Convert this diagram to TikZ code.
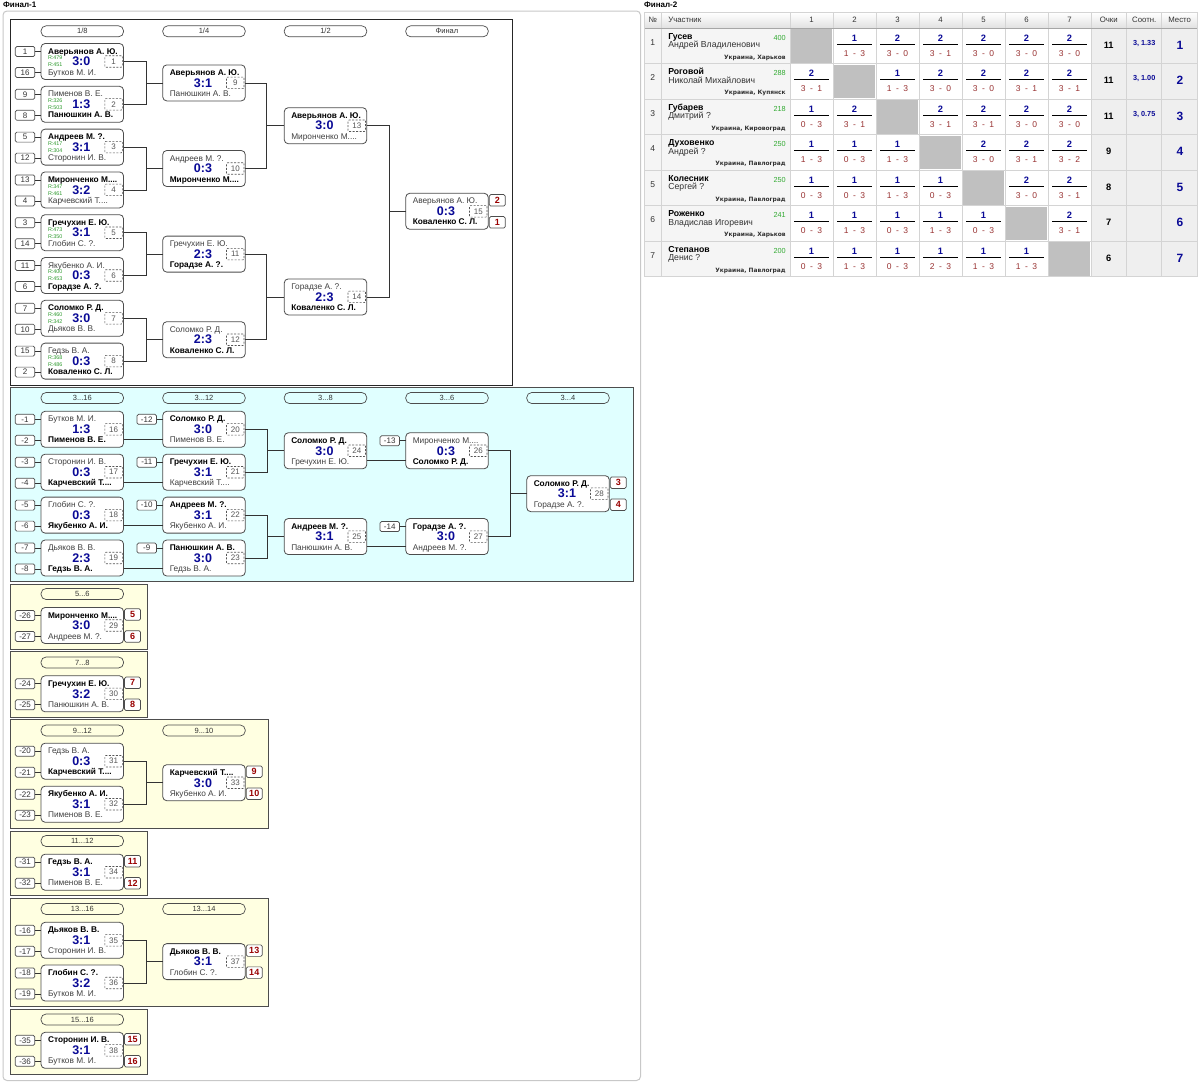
\documentclass[tikz,border=0pt]{standalone}
\usepackage{fontspec}
\setmainfont{Liberation Sans}
\newfontfamily\cityfont{DejaVu Sans}
\usetikzlibrary{calc}
\definecolor{boxline}{HTML}{4D4D4D}
\definecolor{connc}{HTML}{333333}
\definecolor{scoreblue}{HTML}{0A0A96}
\definecolor{numgray}{HTML}{555555}
\definecolor{placered}{HTML}{990000}
\definecolor{rgreen}{HTML}{2E9B2E}
\definecolor{txtgray}{HTML}{404040}
\definecolor{txtdark}{HTML}{333333}
\definecolor{cyanfill}{HTML}{E0FFFF}
\definecolor{yelfill}{HTML}{FFFFE1}
\definecolor{panelgray}{HTML}{C8C8C8}
\definecolor{gridc}{HTML}{D4D4D4}
\definecolor{cellgray}{HTML}{C0C0C0}
\definecolor{partfill}{HTML}{F5F5F5}
\definecolor{sumfill}{HTML}{EFEFEF}
\definecolor{resred}{HTML}{993333}
\definecolor{tgreen}{HTML}{33AA33}
\newcommand\wnr[1]{\textbf{#1}}
\newcommand\lsr[1]{\textcolor{txtgray}{#1}}
\tikzset{
 every node/.style={inner sep=0pt, outer sep=0pt},
 mbox/.style={draw=boxline, fill=white, rounded corners=4pt, minimum width=82.5pt, minimum height=36pt, line width=0.8pt},
 nm/.style={anchor=base west, font=\fontsize{8.3}{9}\selectfont},
 sc/.style={font=\fontsize{12.5}{13}\selectfont\bfseries, text=scoreblue},
 numbox/.style={draw=numgray, dash pattern=on 2pt off 1.5pt, rounded corners=1pt, minimum width=17.5pt, minimum height=11.5pt, font=\fontsize{8}{9}\selectfont, text=numgray, line width=0.6pt},
 seedbox/.style={draw=boxline, fill=white, rounded corners=1.5pt, minimum width=19.5pt, minimum height=10pt, font=\fontsize{8}{9}\selectfont, text=txtdark, line width=0.7pt},
 placebox/.style={draw=boxline, fill=white, rounded corners=1.5pt, minimum width=16pt, minimum height=11.5pt, font=\fontsize{9}{10}\selectfont\bfseries, text=placered, line width=0.7pt},
 hdrbox/.style={draw=boxline, rounded corners=5pt, minimum width=82.5pt, minimum height=11pt, font=\fontsize{7.5}{8}\selectfont, text=txtdark, line width=0.7pt},
 conn/.style={draw=connc, line width=0.8pt},
 rt/.style={anchor=west, font=\fontsize{5.4}{6}\selectfont, text=rgreen},
 thd/.style={anchor=base, font=\fontsize{7.8}{9}\selectfont, text=txtdark},
 resn/.style={anchor=base, font=\fontsize{9.3}{10}\selectfont\bfseries, text=scoreblue},
 ress/.style={anchor=base, font=\fontsize{8.5}{10}\selectfont, text=resred},
}
\newcommand\mtch[6]{%
  \node[mbox] (m#1) at (#2,#3) {};
  \node[nm] (m#1t) at ([xshift=7pt,yshift=7.5pt]m#1.west) {#4};
  \node[nm] (m#1b) at ([xshift=7pt,yshift=-13.5pt]m#1.west) {#5};
  \node[sc] (m#1s) at ([xshift=-1pt]m#1.center) {#6};
  \node[numbox] (m#1n) at ([xshift=-10pt]m#1.east) {#1};
}
\newcommand\rat[3]{%
  \node[rt] (m#1ra) at ([xshift=7pt,yshift=3.5pt]m#1.west) {R:#2};
  \node[rt] (m#1rb) at ([xshift=7pt,yshift=-3.5pt]m#1.west) {R:#3};
}
\newcommand\seeds[3]{%
  \node[seedbox] (m#1sa) at ([xshift=-16pt,yshift=10pt]m#1.west) {#2};
  \node[seedbox] (m#1sb) at ([xshift=-16pt,yshift=-11pt]m#1.west) {#3};
  \draw[conn] (m#1sa.east) -- (m#1sa.east -| m#1.west);
  \draw[conn] (m#1sb.east) -- (m#1sb.east -| m#1.west);
}
\newcommand\seedtop[2]{%
  \node[seedbox] (m#1sa) at ([xshift=-16pt,yshift=10pt]m#1.west) {#2};
  \draw[conn] (m#1sa.east) -- (m#1sa.east -| m#1.west);
}
\newcommand\places[3]{%
  \node[placebox] (m#1pa) at ([xshift=9pt,yshift=11pt]m#1.east) {#2};
  \node[placebox] (m#1pb) at ([xshift=9pt,yshift=-11pt]m#1.east) {#3};
}
\newcommand\joinm[4]{%
  \draw[conn] (m#1.east) -- ++(#4,0) |- (m#3.west);
  \draw[conn] (m#2.east) -- ++(#4,0) |- (m#3.west);
}
\newcommand\strt[2]{%
  \draw[conn] ([yshift=-10pt]m#1.east) -- ([yshift=-10pt]m#2.west);
}
\newcommand\hdr[4]{\node[hdrbox] (#1) at (#2,#3) {#4};}
% table
\newcommand\trow[6]{% row, surname, name, rating, city, points
  \node[anchor=base, font=\fontsize{8.5}{9}\selectfont, text=txtdark] (tn#1) at (652.8,{28.3+35.5*(#1-1)+16.7}) {#1};
  \node[anchor=base west, font=\fontsize{8.7}{9}\selectfont\bfseries] (tsn#1) at (668.3,{28.3+35.5*(#1-1)+10.9}) {#2};
  \node[anchor=base west, font=\fontsize{8.7}{9}\selectfont, text=txtdark] (tfn#1) at (668.3,{28.3+35.5*(#1-1)+19.5}) {#3};
  \node[anchor=base east, font=\fontsize{7.3}{8}\selectfont, text=tgreen] (trt#1) at (785.7,{28.3+35.5*(#1-1)+11.7}) {#4};
  \node[anchor=base east, font=\cityfont\fontsize{5.9}{7}\selectfont\bfseries, text=txtdark] (tct#1) at (785.7,{28.3+35.5*(#1-1)+31}) {#5};
  \node[anchor=base, font=\fontsize{9.3}{10}\selectfont\bfseries] (tpt#1) at (1108.7,{28.3+35.5*(#1-1)+20}) {#6};
  \node[anchor=base, font=\fontsize{12}{13}\selectfont\bfseries, text=scoreblue] (tpl#1) at (1180,{28.3+35.5*(#1-1)+21}) {#1};
}
\newcommand\rc[5]{% row, col, pts, a, b
  \node[resn] (r#1c#2p) at ({790+43*(#2-1)+21.5},{28.3+35.5*(#1-1)+12.7}) {#3};
  \draw[line width=1.1pt, black] ({790+43*(#2-1)+4.3},{28.3+35.5*(#1-1)+16}) -- ({790+43*(#2-1)+38.7},{28.3+35.5*(#1-1)+16});
  \node[ress] (r#1c#2s) at ({790+43*(#2-1)+21.5},{28.3+35.5*(#1-1)+27.7}) {#4\hspace{4.5pt}-\hspace{4.5pt}#5};
}
\newcommand\gc[1]{% diagonal cell
  \fill[cellgray] ({790+43*(#1-1)+1},{28.3+35.5*(#1-1)+1}) rectangle ({790+43*(#1-1)+42},{28.3+35.5*(#1-1)+34.5});
}
\begin{document}
\begin{tikzpicture}[x=1pt,y=-1pt]
\useasboundingbox (0,0) rectangle (1200,1082);
\fill[white] (0,0) rectangle (1200,1082);
% titles
\node[anchor=base west, font=\fontsize{8}{9}\selectfont\bfseries] (title1) at (3,7.5) {Финал-1};
\node[anchor=base west, font=\fontsize{8}{9}\selectfont\bfseries] (title2) at (644,7.5) {Финал-2};
% outer panel
\draw[panelgray, line width=1pt, rounded corners=4pt] (3,11) rectangle (640.5,1080.5);
% sections
\draw[black!85, line width=0.9pt, fill=white] (10,19) rectangle (512,385);
\draw[boxline, line width=0.9pt, fill=cyanfill] (10,387) rectangle (633,581);
\draw[boxline, line width=0.9pt, fill=yelfill] (10,584) rectangle (147,649.3);
\draw[boxline, line width=0.9pt, fill=yelfill] (10,651.7) rectangle (147,717.3);
\draw[boxline, line width=0.9pt, fill=yelfill] (10,719.5) rectangle (268.5,828.5);
\draw[boxline, line width=0.9pt, fill=yelfill] (10,831) rectangle (147,895.8);
\draw[boxline, line width=0.9pt, fill=yelfill] (10,898.5) rectangle (268.5,1006.7);
\draw[boxline, line width=0.9pt, fill=yelfill] (10,1009.3) rectangle (147,1074.3);
% headers
\hdr{h1}{82.3}{31.3}{1/8}
\hdr{h2}{204}{31.3}{1/4}
\hdr{h3}{325.5}{31.3}{1/2}
\hdr{h4}{447}{31.3}{Финал}
\hdr{h5}{82.3}{398}{3...16}
\hdr{h6}{204}{398}{3...12}
\hdr{h7}{325.5}{398}{3...8}
\hdr{h8}{447}{398}{3...6}
\hdr{h9}{568}{398}{3...4}
\hdr{h10}{82.3}{594}{5...6}
\hdr{h11}{82.3}{662.5}{7...8}
\hdr{h12}{82.3}{730.5}{9...12}
\hdr{h13}{204}{730.5}{9...10}
\hdr{h14}{82.3}{841}{11...12}
\hdr{h15}{82.3}{909}{13...16}
\hdr{h16}{204}{909}{13...14}
\hdr{h17}{82.3}{1019.5}{15...16}
% ---- main bracket
\mtch{1}{82.3}{61.5}{\wnr{Аверьянов А. Ю.}}{\lsr{Бутков М. И.}}{3:0}\rat{1}{479}{451}\seeds{1}{1}{16}
\mtch{2}{82.3}{104.3}{\lsr{Пименов В. Е.}}{\wnr{Панюшкин А. В.}}{1:3}\rat{2}{326}{503}\seeds{2}{9}{8}
\mtch{3}{82.3}{147.1}{\wnr{Андреев М. ?.}}{\lsr{Сторонин И. В.}}{3:1}\rat{3}{417}{304}\seeds{3}{5}{12}
\mtch{4}{82.3}{189.9}{\wnr{Миронченко М....}}{\lsr{Карчевский Т....}}{3:2}\rat{4}{347}{461}\seeds{4}{13}{4}
\mtch{5}{82.3}{232.7}{\wnr{Гречухин Е. Ю.}}{\lsr{Глобин С. ?.}}{3:1}\rat{5}{473}{350}\seeds{5}{3}{14}
\mtch{6}{82.3}{275.5}{\lsr{Якубенко А. И.}}{\wnr{Горадзе А. ?.}}{0:3}\rat{6}{400}{453}\seeds{6}{11}{6}
\mtch{7}{82.3}{318.3}{\wnr{Соломко Р. Д.}}{\lsr{Дьяков В. В.}}{3:0}\rat{7}{460}{342}\seeds{7}{7}{10}
\mtch{8}{82.3}{361.1}{\lsr{Гедзь В. А.}}{\wnr{Коваленко С. Л.}}{0:3}\rat{8}{368}{486}\seeds{8}{15}{2}
\mtch{9}{204}{82.9}{\wnr{Аверьянов А. Ю.}}{\lsr{Панюшкин А. В.}}{3:1}
\mtch{10}{204}{168.5}{\lsr{Андреев М. ?.}}{\wnr{Миронченко М....}}{0:3}
\mtch{11}{204}{254.1}{\lsr{Гречухин Е. Ю.}}{\wnr{Горадзе А. ?.}}{2:3}
\mtch{12}{204}{339.7}{\lsr{Соломко Р. Д.}}{\wnr{Коваленко С. Л.}}{2:3}
\mtch{13}{325.5}{125.7}{\wnr{Аверьянов А. Ю.}}{\lsr{Миронченко М....}}{3:0}
\mtch{14}{325.5}{296.9}{\lsr{Горадзе А. ?.}}{\wnr{Коваленко С. Л.}}{2:3}
\mtch{15}{447}{211.3}{\lsr{Аверьянов А. Ю.}}{\wnr{Коваленко С. Л.}}{0:3}\places{15}{2}{1}
\joinm{1}{2}{9}{23}
\joinm{3}{4}{10}{23}
\joinm{5}{6}{11}{23}
\joinm{7}{8}{12}{23}
\joinm{9}{10}{13}{21}
\joinm{11}{12}{14}{21}
\joinm{13}{14}{15}{22.5}
% ---- 3..16
\mtch{16}{82.3}{429.3}{\lsr{Бутков М. И.}}{\wnr{Пименов В. Е.}}{1:3}\seeds{16}{-1}{-2}
\mtch{17}{82.3}{472.2}{\lsr{Сторонин И. В.}}{\wnr{Карчевский Т....}}{0:3}\seeds{17}{-3}{-4}
\mtch{18}{82.3}{515.1}{\lsr{Глобин С. ?.}}{\wnr{Якубенко А. И.}}{0:3}\seeds{18}{-5}{-6}
\mtch{19}{82.3}{558}{\lsr{Дьяков В. В.}}{\wnr{Гедзь В. А.}}{2:3}\seeds{19}{-7}{-8}
\mtch{20}{204}{429.3}{\wnr{Соломко Р. Д.}}{\lsr{Пименов В. Е.}}{3:0}\seedtop{20}{-12}
\mtch{21}{204}{472.2}{\wnr{Гречухин Е. Ю.}}{\lsr{Карчевский Т....}}{3:1}\seedtop{21}{-11}
\mtch{22}{204}{515.1}{\wnr{Андреев М. ?.}}{\lsr{Якубенко А. И.}}{3:1}\seedtop{22}{-10}
\mtch{23}{204}{558}{\wnr{Панюшкин А. В.}}{\lsr{Гедзь В. А.}}{3:0}\seedtop{23}{-9}
\mtch{24}{325.5}{450.75}{\wnr{Соломко Р. Д.}}{\lsr{Гречухин Е. Ю.}}{3:0}
\mtch{25}{325.5}{536.55}{\wnr{Андреев М. ?.}}{\lsr{Панюшкин А. В.}}{3:1}
\mtch{26}{447}{450.75}{\lsr{Миронченко М....}}{\wnr{Соломко Р. Д.}}{0:3}\seedtop{26}{-13}
\mtch{27}{447}{536.55}{\wnr{Горадзе А. ?.}}{\lsr{Андреев М. ?.}}{3:0}\seedtop{27}{-14}
\mtch{28}{568}{493.65}{\wnr{Соломко Р. Д.}}{\lsr{Горадзе А. ?.}}{3:1}\places{28}{3}{4}
\strt{16}{20}\strt{17}{21}\strt{18}{22}\strt{19}{23}
\strt{24}{26}\strt{25}{27}
\joinm{20}{21}{24}{22}
\joinm{22}{23}{25}{22}
\joinm{26}{27}{28}{22.5}
% ---- lower places
\mtch{29}{82.3}{625.5}{\wnr{Миронченко М....}}{\lsr{Андреев М. ?.}}{3:0}\seeds{29}{-26}{-27}\places{29}{5}{6}
\mtch{30}{82.3}{693.8}{\wnr{Гречухин Е. Ю.}}{\lsr{Панюшкин А. В.}}{3:2}\seeds{30}{-24}{-25}\places{30}{7}{8}
\mtch{31}{82.3}{761.2}{\lsr{Гедзь В. А.}}{\wnr{Карчевский Т....}}{0:3}\seeds{31}{-20}{-21}
\mtch{32}{82.3}{804.2}{\wnr{Якубенко А. И.}}{\lsr{Пименов В. Е.}}{3:1}\seeds{32}{-22}{-23}
\mtch{33}{204}{782.7}{\wnr{Карчевский Т....}}{\lsr{Якубенко А. И.}}{3:0}\places{33}{9}{10}
\mtch{34}{82.3}{872.2}{\wnr{Гедзь В. А.}}{\lsr{Пименов В. Е.}}{3:1}\seeds{34}{-31}{-32}\places{34}{11}{12}
\mtch{35}{82.3}{940.3}{\wnr{Дьяков В. В.}}{\lsr{Сторонин И. В.}}{3:1}\seeds{35}{-16}{-17}
\mtch{36}{82.3}{983}{\wnr{Глобин С. ?.}}{\lsr{Бутков М. И.}}{3:2}\seeds{36}{-18}{-19}
\mtch{37}{204}{961.6}{\wnr{Дьяков В. В.}}{\lsr{Глобин С. ?.}}{3:1}\places{37}{13}{14}
\mtch{38}{82.3}{1050.3}{\wnr{Сторонин И. В.}}{\lsr{Бутков М. И.}}{3:1}\seeds{38}{-35}{-36}\places{38}{15}{16}
\joinm{31}{32}{33}{23}
\joinm{35}{36}{37}{23}
% ---- table
\fill[partfill] (644,28.3) rectangle (790,276.8);
\fill[white] (790,28.3) rectangle (1091,276.8);
\fill[sumfill] (1091,28.3) rectangle (1197.7,276.8);
\shade[top color=white, bottom color=black!12] (644,12.7) rectangle (1197.7,28.3);
\foreach \i in {1,...,7}{\gc{\i}}
\foreach \yy in {63.8,99.3,134.8,170.3,205.8,241.3}{\draw[gridc, line width=0.8pt] (644,\yy) -- (1197.7,\yy);}
\foreach \xx in {661.7,790,833,876,919,962,1005,1048,1091,1126.7,1161.7}{\draw[gridc, line width=0.8pt] (\xx,12.7) -- (\xx,276.8);}
\draw[black!35, line width=0.8pt] (644,28.3) -- (1197.7,28.3);
\draw[gridc, line width=0.8pt] (644,12.7) rectangle (1197.7,276.8);
\node[thd] (th0) at (652.8,22.3) {№};
\node[thd, anchor=base west] (th1) at (668.3,22.3) {Участник};
\foreach \c in {1,...,7}{\node[thd] (thc\c) at ({790+43*(\c-1)+21.5},22.3) {\c};}
\node[thd] (th8) at (1108.7,22.3) {Очки};
\node[thd] (th9) at (1144.2,22.3) {Соотн.};
\node[thd] (th10) at (1179.7,22.3) {Место};
\trow{1}{Гусев}{Андрей Владиленович}{400}{Украина, Харьков}{11}
\trow{2}{Роговой}{Николай Михайлович}{288}{Украина, Купянск}{11}
\trow{3}{Губарев}{Дмитрий ?}{218}{Украина, Кировоград}{11}
\trow{4}{Духовенко}{Андрей ?}{250}{Украина, Павлоград}{9}
\trow{5}{Колесник}{Сергей ?}{250}{Украина, Павлоград}{8}
\trow{6}{Роженко}{Владислав Игоревич}{241}{Украина, Харьков}{7}
\trow{7}{Степанов}{Денис ?}{200}{Украина, Павлоград}{6}
\node[anchor=base, font=\fontsize{7.3}{8}\selectfont\bfseries, text=scoreblue] (sr1) at (1144.2,{28.3+17}) {3, 1.33};
\node[anchor=base, font=\fontsize{7.3}{8}\selectfont\bfseries, text=scoreblue] (sr2) at (1144.2,{28.3+35.5+17}) {3, 1.00};
\node[anchor=base, font=\fontsize{7.3}{8}\selectfont\bfseries, text=scoreblue] (sr3) at (1144.2,{28.3+71+17}) {3, 0.75};
% results
\rc{1}{2}{1}{1}{3}\rc{1}{3}{2}{3}{0}\rc{1}{4}{2}{3}{1}\rc{1}{5}{2}{3}{0}\rc{1}{6}{2}{3}{0}\rc{1}{7}{2}{3}{0}
\rc{2}{1}{2}{3}{1}\rc{2}{3}{1}{1}{3}\rc{2}{4}{2}{3}{0}\rc{2}{5}{2}{3}{0}\rc{2}{6}{2}{3}{1}\rc{2}{7}{2}{3}{1}
\rc{3}{1}{1}{0}{3}\rc{3}{2}{2}{3}{1}\rc{3}{4}{2}{3}{1}\rc{3}{5}{2}{3}{1}\rc{3}{6}{2}{3}{0}\rc{3}{7}{2}{3}{0}
\rc{4}{1}{1}{1}{3}\rc{4}{2}{1}{0}{3}\rc{4}{3}{1}{1}{3}\rc{4}{5}{2}{3}{0}\rc{4}{6}{2}{3}{1}\rc{4}{7}{2}{3}{2}
\rc{5}{1}{1}{0}{3}\rc{5}{2}{1}{0}{3}\rc{5}{3}{1}{1}{3}\rc{5}{4}{1}{0}{3}\rc{5}{6}{2}{3}{0}\rc{5}{7}{2}{3}{1}
\rc{6}{1}{1}{0}{3}\rc{6}{2}{1}{1}{3}\rc{6}{3}{1}{0}{3}\rc{6}{4}{1}{1}{3}\rc{6}{5}{1}{0}{3}\rc{6}{7}{2}{3}{1}
\rc{7}{1}{1}{0}{3}\rc{7}{2}{1}{1}{3}\rc{7}{3}{1}{0}{3}\rc{7}{4}{1}{2}{3}\rc{7}{5}{1}{1}{3}\rc{7}{6}{1}{1}{3}
\end{tikzpicture}
\end{document}
